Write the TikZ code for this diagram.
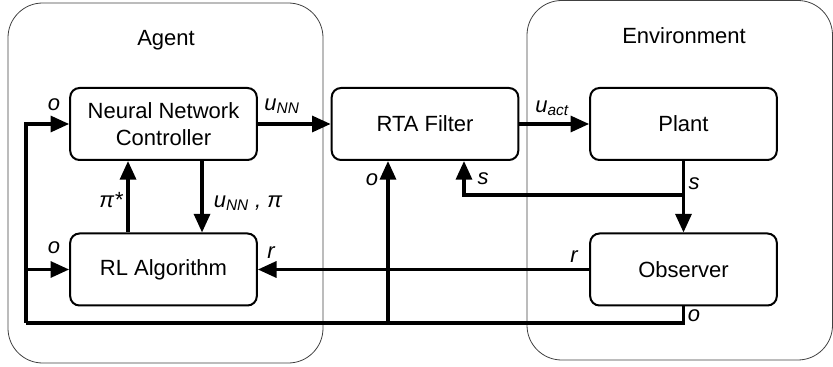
\documentclass[tikz,border=0pt]{standalone}
\usepackage{fontspec}
\setmainfont{Liberation Sans}
\usetikzlibrary{arrows.meta}

\begin{document}
\begin{tikzpicture}[
      x=0.75pt, y=-0.75pt,
      block/.style={draw, line width=1.5pt, rounded corners=7pt,
                    minimum width=140pt, minimum height=54pt, align=center,
                    font=\fontsize{16.5}{20}\selectfont},
      group/.style={draw=black!75, line width=0.6pt, rounded corners=26pt},
      wire/.style={line width=2.5pt},
      sig/.style={wire, -{Triangle[length=14pt,width=12pt]}},
      lbl/.style={font=\fontsize{16.5}{20}\selectfont\itshape, inner sep=0pt},
      title/.style={font=\fontsize{16.5}{20}\selectfont}
    ]
      \useasboundingbox (0,0) rectangle (833,367);

      % agent and environment
      \draw[group] (8,3) rectangle (323,363);
      \draw[group] (527,0.5) rectangle (832.5,360);
      \node[title] (agent) at (166,40) {Agent};
      \node[title] (env) at (684,36) {Environment};

      % blocks
      \node[block] (nn)    at (163.5,124)   {Neural Network\\Controller};
      \node[block] (rl)    at (163.5,269.5) {RL Algorithm};
      \node[block] (rta)   at (425,124)     {RTA Filter};
      \node[block] (plant) at (683.5,124)   {Plant};
      \node[block] (obs)   at (683.5,269.5) {Observer};

      % taps and bends
      \coordinate (oleft) at (26,323);
      \coordinate (otap)  at (388,323);
      \coordinate (stap)  at (683.5,195);
      \coordinate (sbend) at (464,195);

      % forward path
      \draw[sig] (nn) -- (rta);
      \draw[sig] (rta) -- (plant);
      \draw[sig] (plant) -- (obs);
      \draw[sig] (stap) -- (sbend) -- (sbend |- rta.south);

      % inside the agent
      \draw[sig] ([xshift=28.9pt]nn.south) -- ([xshift=28.9pt]rl.north);
      \draw[sig] ([xshift=-26.6pt]rl.north) -- ([xshift=-26.6pt]nn.south);

      % reward and observation
      \draw[sig] (obs) -- (rl);
      \draw[wire] (obs.south) -- (obs.south |- oleft) -- (oleft);
      \draw[sig] (oleft) -- (oleft |- nn.west) -- (nn.west);
      \draw[sig] (oleft |- rl.west) -- (rl.west);
      \draw[sig] (otap) -- (otap |- rta.south);

      % signal names
      \node[lbl] (ln1) at (54,105)  {o};
      \node[lbl] (ln2) at (54,248)  {o};
      \node[lbl] (ln3) at (282,106) {u\textsubscript{NN}};
      \node[lbl] (ln4) at (111,200) {π*};
      \node[lbl] (ln5) at (248,203) {u\textsubscript{NN} ,\ π};
      \node[lbl] (ln6) at (271,253) {r};
      \node[lbl] (ln7) at (372,180) {o};
      \node[lbl] (ln8) at (483,179) {s};
      \node[lbl] (ln9) at (552,108) {u\textsubscript{act}};
      \node[lbl] (ln10) at (694,184) {s};
      \node[lbl] (ln11) at (574,257) {r};
      \node[lbl] (ln12) at (694,316) {o};
    \end{tikzpicture}
\end{document}
